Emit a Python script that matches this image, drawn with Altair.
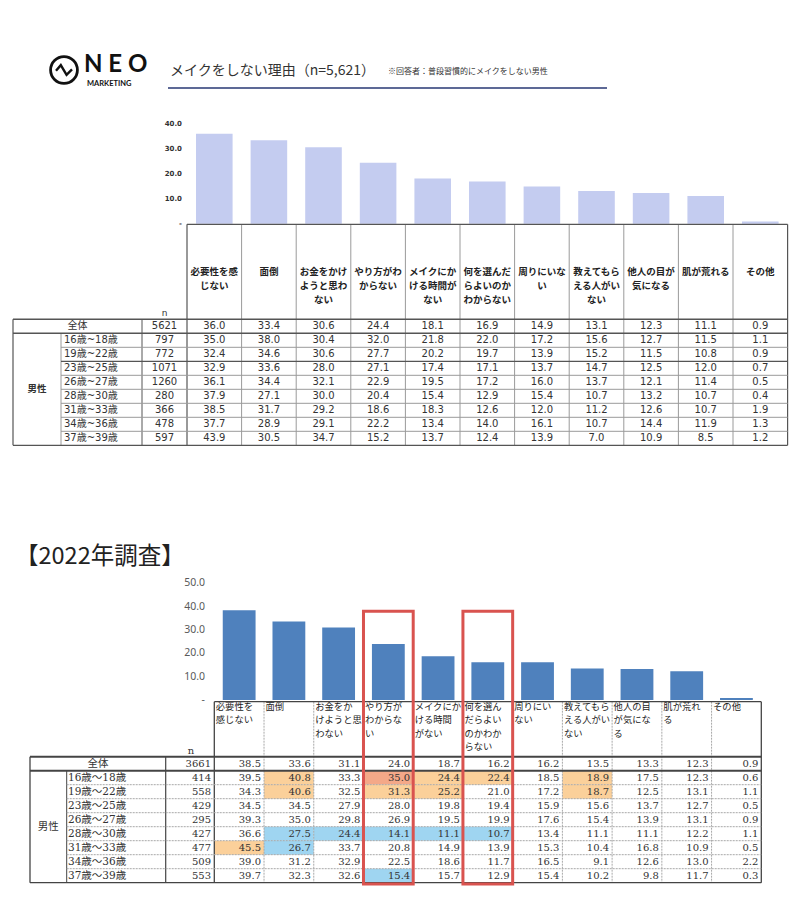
import altair as alt
import pandas as pd

# ---------------- data ----------------
cats = ["必要性を感じない", "面倒", "お金をかけようと思わない", "やり方がわからない",
        "メイクにかける時間がない", "何を選んだらよいのかわからない", "周りにいない",
        "教えてもらえる人がいない", "他人の目が気になる", "肌が荒れる", "その他"]

hdr_2023 = ["必要性を感\nじない", "面倒", "お金をかけ\nようと思わ\nない", "やり方がわ\nからない",
            "メイクにか\nける時間が\nない", "何を選んだ\nらよいのか\nわからない", "周りにいな\nい",
            "教えてもら\nえる人がい\nない", "他人の目が\n気になる", "肌が荒れる", "その他"]
hdr_2022 = ["必要性を\n感じない", "面倒", "お金をか\nけようと思\nわない", "やり方が\nわからな\nい",
            "メイクにか\nける時間\nがない", "何を選ん\nだらよい\nのかわか\nらない", "周りにい\nない",
            "教えてもら\nえる人がい\nない", "他人の目\nが気にな\nる", "肌が荒れ\nる", "その他"]

rows_2023 = ["全体", "16歳~18歳", "19歳~22歳", "23歳~25歳", "26歳~27歳",
             "28歳~30歳", "31歳~33歳", "34歳~36歳", "37歳~39歳"]
rows_2022 = ["全体", "16歳～18歳", "19歳～22歳", "23歳～25歳", "26歳～27歳",
             "28歳～30歳", "31歳～33歳", "34歳～36歳", "37歳～39歳"]

n_2023 = [5621, 797, 772, 1071, 1260, 280, 366, 478, 597]
n_2022 = [3661, 414, 558, 429, 295, 427, 477, 509, 553]

a23_all = [36.0, 33.4, 30.6, 24.4, 18.1, 16.9, 14.9, 13.1, 12.3, 11.1, 0.9]
a23_16 = [35.0, 38.0, 30.4, 32.0, 21.8, 22.0, 17.2, 15.6, 12.7, 11.5, 1.1]
a23_19 = [32.4, 34.6, 30.6, 27.7, 20.2, 19.7, 13.9, 15.2, 11.5, 10.8, 0.9]
a23_23 = [32.9, 33.6, 28.0, 27.1, 17.4, 17.1, 13.7, 14.7, 12.5, 12.0, 0.7]
a23_26 = [36.1, 34.4, 32.1, 22.9, 19.5, 17.2, 16.0, 13.7, 12.1, 11.4, 0.5]
a23_28 = [37.9, 27.1, 30.0, 20.4, 15.4, 12.9, 15.4, 10.7, 13.2, 10.7, 0.4]
a23_31 = [38.5, 31.7, 29.2, 18.6, 18.3, 12.6, 12.0, 11.2, 12.6, 10.7, 1.9]
a23_34 = [37.7, 28.9, 29.1, 22.2, 13.4, 14.0, 16.1, 10.7, 14.4, 11.9, 1.3]
a23_37 = [43.9, 30.5, 34.7, 15.2, 13.7, 12.4, 13.9, 7.0, 10.9, 8.5, 1.2]

a22_all = [38.5, 33.6, 31.1, 24.0, 18.7, 16.2, 16.2, 13.5, 13.3, 12.3, 0.9]
a22_16 = [39.5, 40.8, 33.3, 35.0, 24.4, 22.4, 18.5, 18.9, 17.5, 12.3, 0.6]
a22_19 = [34.3, 40.6, 32.5, 31.3, 25.2, 21.0, 17.2, 18.7, 12.5, 13.1, 1.1]
a22_23 = [34.5, 34.5, 27.9, 28.0, 19.8, 19.4, 15.9, 15.6, 13.7, 12.7, 0.5]
a22_26 = [39.3, 35.0, 29.8, 26.9, 19.5, 19.9, 17.6, 15.4, 13.9, 13.1, 0.9]
a22_28 = [36.6, 27.5, 24.4, 14.1, 11.1, 10.7, 13.4, 11.1, 11.1, 12.2, 1.1]
a22_31 = [45.5, 26.7, 33.7, 20.8, 14.9, 13.9, 15.3, 10.4, 16.8, 10.9, 0.5]
a22_34 = [39.0, 31.2, 32.9, 22.5, 18.6, 11.7, 16.5, 9.1, 12.6, 13.0, 2.2]
a22_37 = [39.7, 32.3, 32.6, 15.4, 15.7, 12.9, 15.4, 10.2, 9.8, 11.7, 0.3]

# highlighted cells in 2022 table: (row, category, kind)
hl_2022 = [
    ("16歳～18歳", "面倒", "high"), ("16歳～18歳", "やり方がわからない", "top"),
    ("16歳～18歳", "メイクにかける時間がない", "high"), ("16歳～18歳", "何を選んだらよいのかわからない", "high"),
    ("16歳～18歳", "教えてもらえる人がいない", "high"),
    ("19歳～22歳", "面倒", "high"), ("19歳～22歳", "やり方がわからない", "high"),
    ("19歳～22歳", "メイクにかける時間がない", "high"), ("19歳～22歳", "教えてもらえる人がいない", "high"),
    ("28歳～30歳", "面倒", "low"), ("28歳～30歳", "お金をかけようと思わない", "low"),
    ("28歳～30歳", "やり方がわからない", "low"), ("28歳～30歳", "メイクにかける時間がない", "low"),
    ("28歳～30歳", "何を選んだらよいのかわからない", "low"),
    ("31歳～33歳", "必要性を感じない", "high"), ("31歳～33歳", "面倒", "low"),
    ("37歳～39歳", "やり方がわからない", "low"),
]
red_box_cats = ["やり方がわからない", "何を選んだらよいのかわからない"]
red_box_top = 38.0

ticks_2023 = [0, 10, 20, 30, 40]
ticks_2022 = [0, 10, 20, 30, 40, 50]

vals_2023 = [a23_all, a23_16, a23_19, a23_23, a23_26, a23_28, a23_31, a23_34, a23_37]
vals_2022 = [a22_all, a22_16, a22_19, a22_23, a22_26, a22_28, a22_31, a22_34, a22_37]

# ---------------- helpers ----------------
O = 8
def p(v):
    return v - O

JP = "Noto Sans CJK JP"
SANS_NUM = "'DejaVu Sans', 'Noto Sans CJK JP'"
SERIF_NUM = "'DejaVu Serif', 'Noto Sans CJK JP'"

def long_df(rows, vals):
    recs = []
    for r, vs in zip(rows, vals):
        for c, v in zip(cats, vs):
            recs.append({"row": r, "cat": c, "value": v})
    return pd.DataFrame(recs)

def tick_df(ticks):
    return pd.DataFrame({"t": ticks, "lab": ["-" if t == 0 else f"{t:.1f}" for t in ticks]})

def vrule(xs, cl, bp, y0, y1, color, sw=1.0, dash=None):
    kw = {"color": color, "strokeWidth": sw}
    if dash:
        kw["strokeDash"] = dash
    return alt.Chart(pd.DataFrame({"cat": cl})).mark_rule(**kw).encode(
        x=alt.X("cat:N", scale=xs, bandPosition=bp, axis=None),
        y=alt.value(p(y0)), y2=alt.value(p(y1)))

def hrule(ys, rl, bp, x0, x1, color, sw=1.0, dash=None):
    kw = {"color": color, "strokeWidth": sw}
    if dash:
        kw["strokeDash"] = dash
    return alt.Chart(pd.DataFrame({"row": rl})).mark_rule(**kw).encode(
        y=alt.Y("row:N", scale=ys, bandPosition=bp, axis=None),
        x=alt.value(p(x0)), x2=alt.value(p(x1)))

def fixed_rule(x0, x1, y0, y1, color, sw=1.0):
    return alt.Chart(pd.DataFrame({"a": [0]})).mark_rule(color=color, strokeWidth=sw).encode(
        x=alt.value(p(x0)), x2=alt.value(p(x1)), y=alt.value(p(y0)), y2=alt.value(p(y1)))

def label(text, x, y, **kw):
    return alt.Chart(pd.DataFrame({"t": [text]})).mark_text(**kw).encode(
        x=alt.value(p(x)), y=alt.value(p(y)), text="t:N")

layers = []

# ---------------- header / logo ----------------
layers.append(alt.Chart(pd.DataFrame({"a": [0]})).mark_point(
    shape="circle", size=720, filled=False, stroke="#111", strokeWidth=2.8, opacity=1).encode(
    x=alt.value(p(64)), y=alt.value(p(70))))
logo_line = pd.DataFrame({"lx": [0, 0.3, 0.66, 1.0], "ly": [0.45, 0.85, 0.15, 0.55], "o": [0, 1, 2, 3]})
layers.append(alt.Chart(logo_line).mark_line(color="#111", strokeWidth=2.4).encode(
    x=alt.X("lx:Q", scale=alt.Scale(domain=[0, 1], range=[p(56), p(72)]), axis=None),
    y=alt.Y("ly:Q", scale=alt.Scale(domain=[0, 1], range=[p(77), p(63)]), axis=None),
    order="o:Q"))
layers.append(label("N E O", 84, 65, font="Lato", fontSize=24, fontWeight="bold", align="left",
                    baseline="middle", color="#111"))
layers.append(label("MARKETING", 87, 84, font="Lato", fontSize=7.5, fontWeight="bold", align="left",
                    baseline="middle", color="#111"))
layers.append(label("メイクをしない理由（n=5,621）", 170, 71, font=JP, fontSize=14, align="left",
                    baseline="middle", color="#333"))
layers.append(label("※回答者：普段習慣的にメイクをしない男性", 388, 72, font=JP, fontSize=8, align="left",
                    baseline="middle", color="#333"))
layers.append(fixed_rule(168, 607, 88, 88, "#5d6996", 2))

# ---------------- section 1 (2023) ----------------
xc1 = alt.Scale(type="band", domain=cats, range=[p(187), p(787.6)], paddingInner=0, paddingOuter=0)
yv1 = alt.Scale(type="linear", domain=[0, 40], range=[p(223.7), p(123.7)], nice=False, zero=True)
yr1 = alt.Scale(type="band", domain=rows_2023, range=[p(319.3), p(445.3)], paddingInner=0, paddingOuter=0)

bar1 = pd.DataFrame({"cat": cats, "value": a23_all})
layers.append(alt.Chart(bar1).mark_bar(color="#c4ccf0", width={"band": 0.67}).encode(
    x=alt.X("cat:N", scale=xc1, axis=None), y=alt.Y("value:Q", scale=yv1, axis=None)))
layers.append(alt.Chart(tick_df(ticks_2023)).mark_text(
    font="DejaVu Sans", fontSize=7, fontWeight="bold", align="right", baseline="middle", color="#333").encode(
    x=alt.value(p(182)), y=alt.Y("t:Q", scale=yv1, axis=None), text="lab:N"))
layers.append(alt.Chart(pd.DataFrame({"cat": cats, "h": hdr_2023})).mark_text(
    font=JP, fontSize=9.5, fontWeight="bold", align="center", baseline="middle", lineBreak="\n",
    lineHeight=14, color="#222").encode(
    x=alt.X("cat:N", scale=xc1, axis=None), y=alt.value(p(271.5)), text="h:N"))
layers.append(label("n", 164.5, 313, font="DejaVu Sans", fontSize=9, align="center",
                    baseline="middle", color="#333"))

t1 = long_df(rows_2023, vals_2023)
layers.append(alt.Chart(t1).mark_text(
    font=SANS_NUM, fontSize=10, align="center", baseline="middle", color="#333").encode(
    x=alt.X("cat:N", scale=xc1, axis=None), y=alt.Y("row:N", scale=yr1, axis=None),
    text=alt.Text("value:Q", format=".1f")))
n1 = pd.DataFrame({"row": rows_2023, "n": n_2023})
layers.append(alt.Chart(n1).mark_text(
    font=SANS_NUM, fontSize=10, align="center", baseline="middle", color="#333").encode(
    x=alt.value(p(164.5)), y=alt.Y("row:N", scale=yr1, axis=None), text="n:N"))
layers.append(alt.Chart(pd.DataFrame({"row": rows_2023[1:]})).mark_text(
    font=SANS_NUM, fontSize=10, align="left", baseline="middle", color="#333").encode(
    x=alt.value(p(64)), y=alt.Y("row:N", scale=yr1, axis=None), text="row:N"))
layers.append(alt.Chart(pd.DataFrame({"row": rows_2023[:1]})).mark_text(
    font=JP, fontSize=10, align="center", baseline="middle", color="#333").encode(
    x=alt.value(p(77.5)), y=alt.Y("row:N", scale=yr1, axis=None), text="row:N"))
layers.append(alt.Chart(pd.DataFrame({"row": [rows_2023[4]], "s": ["男性"]})).mark_text(
    font=JP, fontSize=9.5, fontWeight="bold", align="center", baseline="middle", color="#333").encode(
    x=alt.value(p(37)), y=alt.Y("row:N", scale=yr1, bandPosition=1, axis=None), text="s:N"))

G1_DARK = "#555"
G1_GREY = "#9a9a9a"
layers.append(vrule(xc1, cats[1:], 0, 224.3, 445.3, G1_GREY, 1))
layers.append(vrule(xc1, cats[:1], 0, 224.3, 445.3, G1_DARK, 1.2))
layers.append(vrule(xc1, cats[-1:], 1, 224.3, 445.3, G1_DARK, 1.2))
layers.append(fixed_rule(13, 13, 319.3, 445.3, G1_DARK, 1.2))
layers.append(fixed_rule(61, 61, 333.3, 445.3, G1_GREY, 1))
layers.append(fixed_rule(142, 142, 319.3, 445.3, G1_DARK, 1))
layers.append(fixed_rule(187, 787.6, 224.3, 224.3, G1_DARK, 1.2))
layers.append(hrule(yr1, rows_2023[:2], 0, 13, 787.6, G1_DARK, 1.5))
layers.append(hrule(yr1, rows_2023[-1:], 1, 13, 787.6, G1_DARK, 1.2))
layers.append(hrule(yr1, [r for r in rows_2023[2:] if r != rows_2023[3]], 0, 61, 787.6, G1_GREY, 1))
layers.append(hrule(yr1, [rows_2023[3]], 0, 61, 787.6, G1_DARK, 1.2))

# ---------------- section 2 (2022) ----------------
layers.append(label("【2022年調査】", 15, 557, font=JP, fontSize=23.5, align="left",
                    baseline="middle", color="#222"))

xc2 = alt.Scale(type="band", domain=cats, range=[p(214.3), p(761.3)], paddingInner=0, paddingOuter=0)
yv2 = alt.Scale(type="linear", domain=[0, 50], range=[p(700), p(583.3)], nice=False, zero=True)
yr2 = alt.Scale(type="band", domain=rows_2022, range=[p(756.7), p(882.7)], paddingInner=0, paddingOuter=0)

bar2 = pd.DataFrame({"cat": cats, "value": a22_all})
layers.append(alt.Chart(bar2).mark_bar(color="#4f81bd", width={"band": 0.66}).encode(
    x=alt.X("cat:N", scale=xc2, axis=None), y=alt.Y("value:Q", scale=yv2, axis=None)))
layers.append(alt.Chart(tick_df(ticks_2022)).mark_text(
    font="Noto Sans", fontSize=10.5, align="right", baseline="middle", color="#595959").encode(
    x=alt.value(p(205)), y=alt.Y("t:Q", scale=yv2, axis=None), text="lab:N"))

hl = pd.DataFrame(hl_2022, columns=["row", "cat", "kind"])
layers.append(alt.Chart(hl).mark_rect().encode(
    x=alt.X("cat:N", scale=xc2, axis=None), y=alt.Y("row:N", scale=yr2, axis=None),
    color=alt.Color("kind:N", scale=alt.Scale(domain=["high", "top", "low"],
                                               range=["#fbd09a", "#f4a888", "#9fd5f1"]), legend=None)))

layers.append(alt.Chart(pd.DataFrame({"cat": cats, "h": hdr_2022})).mark_text(
    font=JP, fontSize=9.3, align="left", baseline="top", lineBreak="\n", lineHeight=13.4,
    color="#222", dx=1.5).encode(
    x=alt.X("cat:N", scale=xc2, bandPosition=0, axis=None), y=alt.value(p(703)), text="h:N"))
layers.append(label("n", 191, 751, font="DejaVu Serif", fontSize=10, align="center",
                    baseline="middle", color="#333"))

t2 = long_df(rows_2022, vals_2022)
layers.append(alt.Chart(t2).mark_text(
    font=SERIF_NUM, fontSize=10, align="right", baseline="middle", color="#333", dx=-3).encode(
    x=alt.X("cat:N", scale=xc2, bandPosition=1, axis=None), y=alt.Y("row:N", scale=yr2, axis=None),
    text=alt.Text("value:Q", format=".1f")))
n2 = pd.DataFrame({"row": rows_2022, "n": n_2022})
layers.append(alt.Chart(n2).mark_text(
    font=SERIF_NUM, fontSize=10, align="right", baseline="middle", color="#333").encode(
    x=alt.value(p(211)), y=alt.Y("row:N", scale=yr2, axis=None), text="n:N"))
layers.append(alt.Chart(pd.DataFrame({"row": rows_2022[1:]})).mark_text(
    font=SERIF_NUM, fontSize=10.5, align="left", baseline="middle", color="#333").encode(
    x=alt.value(p(68)), y=alt.Y("row:N", scale=yr2, axis=None), text="row:N"))
layers.append(alt.Chart(pd.DataFrame({"row": rows_2022[:1]})).mark_text(
    font=JP, fontSize=10.5, align="center", baseline="middle", color="#333").encode(
    x=alt.value(p(98)), y=alt.Y("row:N", scale=yr2, axis=None), text="row:N"))
layers.append(alt.Chart(pd.DataFrame({"row": [rows_2022[4]], "s": ["男性"]})).mark_text(
    font=JP, fontSize=10.5, align="center", baseline="middle", color="#333").encode(
    x=alt.value(p(48.3)), y=alt.Y("row:N", scale=yr2, bandPosition=1, axis=None), text="s:N"))

G2_DARK = "#444"
G2_GREY = "#a8a8a8"
layers.append(vrule(xc2, cats[1:], 0, 701.7, 882.7, G2_GREY, 1, [2, 1]))
layers.append(vrule(xc2, cats[:1], 0, 701.7, 882.7, G2_DARK, 1.3))
layers.append(vrule(xc2, cats[-1:], 1, 701.7, 882.7, G2_DARK, 1.3))
layers.append(fixed_rule(30, 30, 756.7, 882.7, G2_DARK, 1.3))
layers.append(fixed_rule(66.7, 66.7, 770.7, 882.7, G2_DARK, 1))
layers.append(fixed_rule(165.7, 165.7, 756.7, 882.7, G2_DARK, 1.2))
layers.append(fixed_rule(214.3, 761.3, 701.7, 701.7, G2_DARK, 1.3))
layers.append(hrule(yr2, rows_2022[:2], 0, 30, 761.3, G2_DARK, 2))
layers.append(hrule(yr2, rows_2022[-1:], 1, 30, 761.3, G2_DARK, 1.3))
layers.append(hrule(yr2, rows_2022[2:], 0, 66.7, 761.3, G2_GREY, 1, [2, 1]))

red = pd.DataFrame({"cat": red_box_cats, "top": [red_box_top] * len(red_box_cats)})
layers.append(alt.Chart(red).mark_rect(fillOpacity=0, stroke="#d9534f", strokeWidth=3).encode(
    x=alt.X("cat:N", scale=xc2, axis=None), y=alt.Y("top:Q", scale=yv2, axis=None),
    y2=alt.value(p(884))))

chart = alt.layer(*layers).resolve_scale(x="independent", y="independent", color="independent").properties(
    width=784, height=897, autosize=alt.AutoSizeParams(type="none"), padding=0
).configure_view(stroke=None)

chart.save("out.html", embed_options={"renderer": "svg", "actions": False})
